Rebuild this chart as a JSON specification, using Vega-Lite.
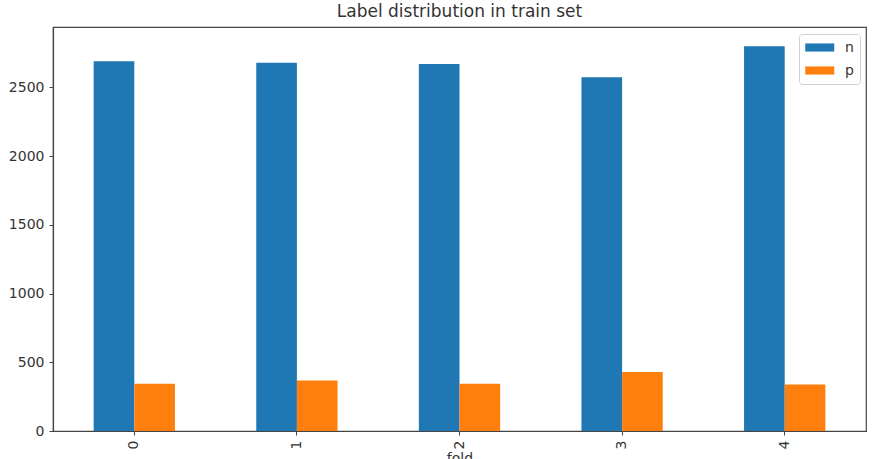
{
  "$schema": "https://vega.github.io/schema/vega-lite/v6.json",
  "width": 813,
  "height": 404,
  "autosize": {"type": "none"},
  "padding": {"left": 53, "top": 27, "right": 9, "bottom": 28},
  "background": "white",
  "title": {
    "text": "Label distribution in train set",
    "font": "DejaVu Sans",
    "fontSize": 17,
    "fontWeight": "normal",
    "color": "#333",
    "offset": 6,
    "anchor": "middle"
  },
  "data": {
    "values": [
      {"fold": "0", "label": "n", "count": 2690},
      {"fold": "0", "label": "p", "count": 344},
      {"fold": "1", "label": "n", "count": 2680},
      {"fold": "1", "label": "p", "count": 367},
      {"fold": "2", "label": "n", "count": 2670},
      {"fold": "2", "label": "p", "count": 344},
      {"fold": "3", "label": "n", "count": 2575},
      {"fold": "3", "label": "p", "count": 429},
      {"fold": "4", "label": "n", "count": 2800},
      {"fold": "4", "label": "p", "count": 339}
    ]
  },
  "mark": {"type": "bar"},
  "encoding": {
    "x": {
      "field": "fold",
      "type": "nominal",
      "scale": {"paddingInner": 0.5, "paddingOuter": 0.25},
      "axis": {
        "title": "fold",
        "labelAngle": -90,
        "titlePadding": 3
      }
    },
    "xOffset": {
      "field": "label",
      "type": "nominal",
      "scale": {"paddingInner": 0, "paddingOuter": 0}
    },
    "y": {
      "field": "count",
      "type": "quantitative",
      "scale": {"domain": [0, 2940], "nice": false},
      "axis": {"title": null, "format": "d", "values": [0, 500, 1000, 1500, 2000, 2500]}
    },
    "color": {
      "field": "label",
      "type": "nominal",
      "scale": {"domain": ["n", "p"], "range": ["#1f77b4", "#ff7f0e"]},
      "legend": {
        "title": null,
        "orient": "none",
        "legendX": 746,
        "legendY": 7,
        "symbolType": "M-1,-0.56H3V0.56H-1Z",
        "symbolSize": 210,
        "symbolStrokeWidth": 0,
        "labelFont": "DejaVu Sans",
        "labelFontSize": 14,
        "labelColor": "#333",
        "labelOffset": 25,
        "rowPadding": 8,
        "padding": 6,
        "strokeColor": "#d0d0d0",
        "fillColor": "white",
        "cornerRadius": 3
      }
    }
  },
  "config": {
    "view": {"stroke": "#444", "strokeWidth": 1.2},
    "axis": {
      "grid": false,
      "domainColor": "#444",
      "domainWidth": 1.2,
      "tickColor": "#444",
      "tickSize": 4,
      "labelFont": "DejaVu Sans",
      "labelFontSize": 14,
      "labelColor": "#333",
      "labelPadding": 5,
      "titleFont": "DejaVu Sans",
      "titleFontSize": 14,
      "titleFontWeight": "normal",
      "titleColor": "#333"
    }
  }
}
